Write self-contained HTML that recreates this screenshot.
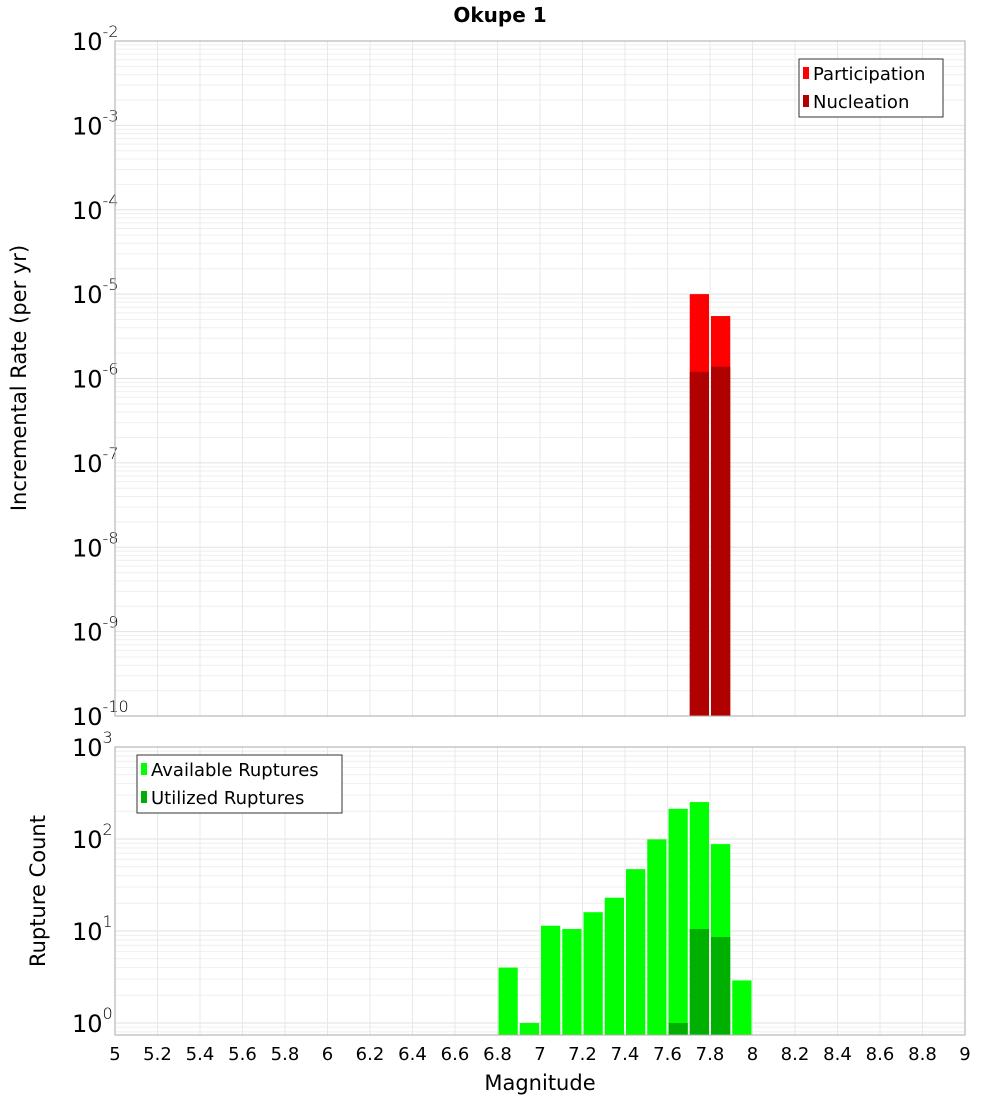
<!DOCTYPE html>
<html><head><meta charset="utf-8"><style>
body{margin:0;background:#fff;}
svg text{font-family:"DejaVu Sans","Liberation Sans",sans-serif;}
</style></head><body>
<svg id="chart" width="1000" height="1100" xmlns="http://www.w3.org/2000/svg">
<rect width="1000" height="1100" fill="#fff"/>
<text x="500" y="22" text-anchor="middle" font-size="20" font-weight="bold">Okupe 1</text>
<g id="top"></g><g id="bot"></g>
<text transform="translate(26,378) rotate(-90)" text-anchor="middle" font-size="21">Incremental Rate (per yr)</text>
<text transform="translate(45,891) rotate(-90)" text-anchor="middle" font-size="21">Rupture Count</text>
<text x="540" y="1090" text-anchor="middle" font-size="21">Magnitude</text>
</svg>
<script>
const topMags=[7.7,7.8];
const participation=[1.0e-5,5.5e-6];
const nucleation=[1.2e-6,1.38e-6];
const botMags=[6.8,6.9,7.0,7.1,7.2,7.3,7.4,7.5,7.6,7.7,7.8,7.9];
const available=[4,1,11.4,10.5,16,23,47,99,213,252,88,2.9];
const utilized=[0,0,0,0,0,0,0,0,1,10.5,8.6,0];
const xTicks=["5","5.2","5.4","5.6","5.8","6","6.2","6.4","6.6","6.8","7","7.2","7.4","7.6","7.8","8","8.2","8.4","8.6","8.8","9"];
const NS="http://www.w3.org/2000/svg";
const X0=115,X1=965;
const xs=m=>X0+(m-5)/4*(X1-X0);
function mk(tag,attrs,parent){const e=document.createElementNS(NS,tag);for(const k in attrs)e.setAttribute(k,attrs[k]);parent.appendChild(e);return e;}
function panel(g,top,bottom,yDecTop,yDecMin,yMin,name){
  const ys=v=>top+(yDecTop-Math.log10(v))*(bottom-top)/(yDecTop-Math.log10(yMin));
  for(let d=Math.floor(Math.log10(yMin));d<yDecTop;d++){for(let k=1;k<10;k++){const v=k*Math.pow(10,d);if(v<yMin)continue;const y=ys(v);
    const l=mk('line',{x1:X0,x2:X1,y1:y,y2:y,stroke:k==1?'#e2e2e2':'#efefef','stroke-width':1},g);
    }}
  for(let i=1;i<20;i++){const x=xs(5+i*0.2);const l=mk('line',{x1:x,x2:x,y1:top,y2:bottom,stroke:'#e8e8e8'},g);
    }
  for(let d=yDecMin;d<=yDecTop;d++){const y=ys(Math.pow(10,d));
    const t=mk('text',{x:72,y:y+9,'font-size':24},g);
    
    t.innerHTML='10<tspan dy="-13" font-size="16" font-weight="300">'+d+'</tspan>';}
  return ys;
}
const gt=document.getElementById('top'),gb=document.getElementById('bot');
const ysT=panel(gt,41,716,-2,-10,1e-10,'top');
const ysB=panel(gb,747,1035,3,0,0.74,'bottom');
const bw=xs(5.1)-xs(5);
topMags.forEach((m,i)=>{
  let r=mk('rect',{x:xs(m)+1,y:ysT(participation[i]),width:bw-2,height:716-ysT(participation[i]),fill:'#ff0000'},gt);
  
  r=mk('rect',{x:xs(m)+1,y:ysT(nucleation[i]),width:bw-2,height:716-ysT(nucleation[i]),fill:'#b00000'},gt);
  
});
botMags.forEach((m,i)=>{
  let r=mk('rect',{x:xs(m)+1,y:ysB(available[i]),width:bw-2,height:1035-ysB(available[i]),fill:'#00ff00'},gb);
  
  if(utilized[i]>0){r=mk('rect',{x:xs(m)+1,y:ysB(utilized[i]),width:bw-2,height:1035-ysB(utilized[i]),fill:'#00b000'},gb);
  }
});
[[gt,41,716],[gb,747,1035]].forEach(([g,t,b])=>{const r=mk('rect',{x:X0,y:t,width:X1-X0,height:b-t,fill:'none',stroke:'#aaa'},g);
  });
xTicks.forEach(s=>{const t=mk('text',{x:xs(parseFloat(s)),y:1060,'text-anchor':'middle','font-size':18},gb);t.textContent=s;
  });
function legend(g,x,y,w,items,name){
  const b=mk('rect',{x:x,y:y,width:w,height:58,fill:'#fff',stroke:'#333'},g);
  
  items.forEach((it,i)=>{const yy=y+14+i*28;
    const s=mk('rect',{x:x+4,y:yy-6,width:6,height:12,fill:it[1]},g);
    
    const t=mk('text',{x:x+14,y:yy+7,'font-size':18},g);t.textContent=it[0];
    });
}
legend(gt,799,59,144,[["Participation","#ff0000"],["Nucleation","#b00000"]],'top-legend');
legend(gb,137,755,205,[["Available Ruptures","#00ff00"],["Utilized Ruptures","#00b000"]],'bottom-legend');
</script>
</body></html>
